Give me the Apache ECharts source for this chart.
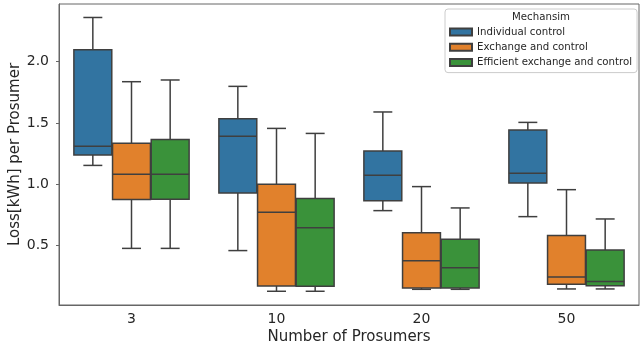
<!DOCTYPE html>
<html>
<head>
<meta charset="utf-8">
<script src="https://cdn.jsdelivr.net/npm/echarts@6/dist/echarts.min.js"></script>
<style>html,body{margin:0;padding:0;background:#fff}#c{width:640px;height:350px}</style>
</head>
<body>
<div id="c"></div>
<script>
const categories = ['3', '10', '20', '50'];
const seriesNames = ['Individual control', 'Exchange and control', 'Efficient exchange and control'];
// each row: [low whisker, Q1, median, Q3, high whisker]
const individualControl = [
  [1.153, 1.238, 1.31, 2.097, 2.36],
  [0.458, 0.928, 1.39, 1.534, 1.798],
  [0.784, 0.865, 1.072, 1.271, 1.589],
  [0.735, 1.01, 1.088, 1.442, 1.504]
];
const exchangeAndControl = [
  [0.476, 0.874, 1.08, 1.333, 1.836],
  [0.126, 0.17, 0.77, 1.0, 1.455],
  [0.142, 0.153, 0.376, 0.604, 0.98],
  [0.145, 0.183, 0.243, 0.582, 0.955]
];
const efficientExchange = [
  [0.476, 0.877, 1.08, 1.365, 1.85],
  [0.126, 0.167, 0.645, 0.882, 1.414],
  [0.142, 0.153, 0.317, 0.55, 0.806],
  [0.145, 0.172, 0.205, 0.463, 0.716]
];
const yTicks = [0.5, 1.0, 1.5, 2.0];

const colors = ['#3274a1', '#e1812c', '#3a923a'];
const lineColor = '#3f3f3f';
const font = 'DejaVu Sans';
const allData = [individualControl, exchangeAndControl, efficientExchange];

function renderItem(params, api) {
  const idx = api.value(0);
  const band = api.size([1, 0])[0];
  const slot = band * 0.8 / 3;
  const bw = slot * 0.98;
  const si = params.seriesIndex;
  const cx = api.coord([idx, 0])[0] + (si - 1) * slot;
  const yLow = api.coord([idx, api.value(1)])[1];
  const yQ1 = api.coord([idx, api.value(2)])[1];
  const yMed = api.coord([idx, api.value(3)])[1];
  const yQ3 = api.coord([idx, api.value(4)])[1];
  const yHigh = api.coord([idx, api.value(5)])[1];
  const x0 = cx - bw / 2;
  const ls = {stroke: lineColor, lineWidth: 1.5};
  return {
    type: 'group',
    children: [
      {type: 'line', shape: {x1: cx, y1: yQ3, x2: cx, y2: yHigh}, style: ls},
      {type: 'line', shape: {x1: cx, y1: yQ1, x2: cx, y2: yLow}, style: ls},
      {type: 'line', shape: {x1: cx - bw / 4, y1: yHigh, x2: cx + bw / 4, y2: yHigh}, style: ls},
      {type: 'line', shape: {x1: cx - bw / 4, y1: yLow, x2: cx + bw / 4, y2: yLow}, style: ls},
      {type: 'rect', shape: {x: x0, y: yQ3, width: bw, height: yQ1 - yQ3},
        style: {fill: colors[si], stroke: lineColor, lineWidth: 1.5}},
      {type: 'line', shape: {x1: x0, y1: yMed, x2: x0 + bw, y2: yMed}, style: ls}
    ]
  };
}

const series = seriesNames.map((name, si) => ({
  name: name,
  type: 'custom',
  renderItem: renderItem,
  itemStyle: {color: colors[si], borderColor: lineColor, borderWidth: 1},
  encode: {x: 0, y: [1, 2, 3, 4, 5]},
  data: allData[si].map((r, i) => [i].concat(r))
}));

const chart = echarts.init(document.getElementById('c'), null, {renderer: 'canvas'});
chart.setOption({
  animation: false,
  backgroundColor: '#fff',
  textStyle: {fontFamily: font},
  grid: {left: 59, right: 1, top: 4, bottom: 45, show: true, borderColor: '#666', borderWidth: 1,
    backgroundColor: 'transparent', containLabel: false, outerBoundsMode: 'none'},
  xAxis: {
    type: 'category',
    data: categories,
    name: 'Number of Prosumers',
    nameLocation: 'middle',
    nameGap: 25,
    nameMoveOverlap: false,
    nameTextStyle: {fontSize: 15, color: '#262626', fontFamily: font},
    axisLine: {lineStyle: {color: '#666', width: 1}},
    axisTick: {alignWithLabel: true, length: 3, lineStyle: {color: '#666'}},
    axisLabel: {fontSize: 14, color: '#262626', margin: 7, fontFamily: font},
    splitLine: {show: false}
  },
  yAxis: {
    type: 'value',
    min: 0.014,
    max: 2.47,
    name: 'Loss[kWh] per Prosumer',
    nameLocation: 'middle',
    nameGap: 36,
    nameMoveOverlap: false,
    nameTextStyle: {fontSize: 15, color: '#262626', fontFamily: font},
    axisLine: {show: true, lineStyle: {color: '#666', width: 1}},
    axisTick: {show: true, length: 3, customValues: yTicks, lineStyle: {color: '#666'}},
    axisLabel: {fontSize: 14, color: '#262626', margin: 10, fontFamily: font,
      customValues: yTicks, formatter: v => v.toFixed(1)},
    splitLine: {show: false}
  },
  legend: {
    orient: 'vertical',
    left: 445,
    top: 9,
    padding: [17, 5, 4, 4],
    itemWidth: 22,
    itemHeight: 7,
    itemGap: 3.3,
    icon: 'rect',
    backgroundColor: 'rgba(255,255,255,0.85)',
    borderColor: '#cccccc',
    borderWidth: 1,
    borderRadius: 3,
    textStyle: {fontSize: 10.2, color: '#262626', fontFamily: font, lineHeight: 12},
    data: seriesNames
  },
  graphic: [{
    type: 'text', z: 100, x: 541, y: 17,
    style: {text: 'Mechansim', fontSize: 10.2, fontFamily: font, fill: '#262626', align: 'center', verticalAlign: 'middle'}
  }],
  series: series
});
</script>
</body>
</html>
